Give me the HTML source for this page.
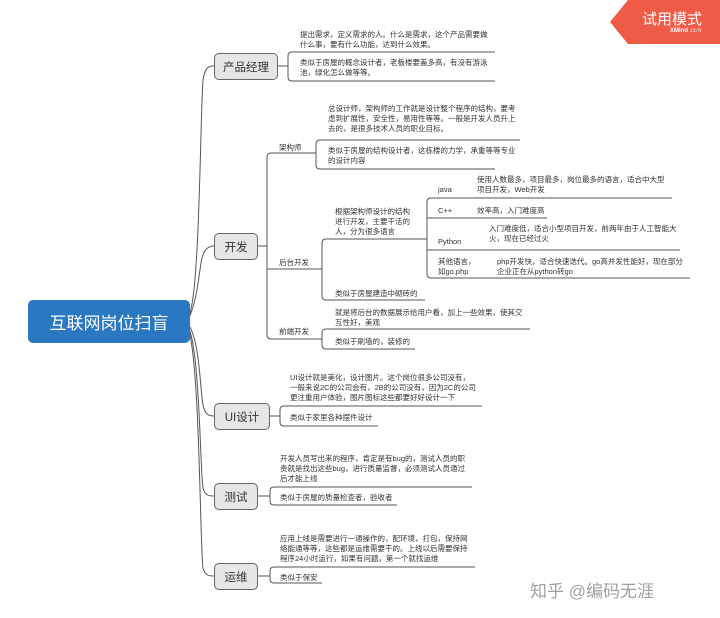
<!DOCTYPE html>
<html><head><meta charset="utf-8"><style>
body{margin:0;width:720px;height:618px;background:#fff;position:relative;overflow:hidden;font-family:"Liberation Sans","Noto Sans CJK SC",sans-serif;color:#333}
.t{position:absolute;font-size:7.5px;line-height:10px;white-space:nowrap}
.m{position:absolute;background:#e6e6e6;border:1px solid #666;border-radius:5px;font-size:11.5px;display:flex;align-items:center;justify-content:center;box-sizing:border-box;color:#333}
</style></head><body>
<svg width="720" height="618" style="position:absolute;left:0;top:0" fill="none" stroke="#555" stroke-width="1">
<path d="M188 318 C200 300,200 120,203 80 C205 68,208 66,214 66"/>
<path d="M188 320 C198 300,199 270,202 258 C204 250,208 246,214 246"/>
<path d="M188 324 C200 340,200 390,203 405 C205 414,208 416,214 416"/>
<path d="M188 326 C200 350,200 470,203 488 C205 495,208 496,214 496"/>
<path d="M188 328 C200 360,200 550,203 568 C205 575,208 576,214 576"/>
<path d="M278 66 H288"/>
<path d="M495 52 H292 Q288 52 288 56 V77 Q288 81 292 81 H495"/>
<path d="M258 246 H267"/>
<path d="M312 153 H271 Q267 153 267 157 V335 Q267 339 271 339 H312"/>
<path d="M267 269 H322"/>
<path d="M312 153 H316"/>
<path d="M520 140 H320 Q316 140 316 144 V165 Q316 169 320 169 H495"/>
<path d="M322 269 V243 Q322 239 326 239 H425 M322 269 V296 Q322 300 326 300 H425"/>
<path d="M425 239 H427"/>
<path d="M672 198 H431 Q427 198 427 202 V274 Q427 278 431 278 H690"/>
<path d="M427 218 H547 M427 250 H680"/>
<path d="M312 339 H322"/>
<path d="M530 329 H326 Q322 329 322 333 V345 Q322 349 326 349 H415"/>
<path d="M270 416 H280"/>
<path d="M482 406 H284 Q280 406 280 410 V422 Q280 426 284 426 H378"/>
<path d="M258 496 H270"/>
<path d="M472 487 H274 Q270 487 270 491 V501 Q270 505 274 505 H397"/>
<path d="M258 576 H270"/>
<path d="M475 567 H274 Q270 567 270 571 V579 Q270 583 274 583 H322"/>
</svg>
<div style="position:absolute;left:28px;top:300px;width:162px;height:43px;background:#2b78c2;border-radius:5px;color:#fff;font-size:17px;display:flex;align-items:center;justify-content:center">互联网岗位扫盲</div>
<div class="m" style="left:214px;top:53px;width:64px;height:27px">产品经理</div>
<div class="m" style="left:214px;top:233px;width:44px;height:27px">开发</div>
<div class="m" style="left:214px;top:403px;width:56px;height:27px">UI设计</div>
<div class="m" style="left:214px;top:483px;width:44px;height:27px">测试</div>
<div class="m" style="left:214px;top:563px;width:44px;height:27px">运维</div>

<div class="t" style="left:300px;top:30px">提出需求，定义需求的人。什么是需求，这个产品需要做<br>什么事，要有什么功能，达到什么效果。</div>
<div class="t" style="left:300px;top:58px">类似于房屋的概念设计者，老板楼要盖多高，有没有游泳<br>池，绿化怎么做等等。</div>
<div class="t" style="left:279px;top:143px">架构师</div>
<div class="t" style="left:328px;top:104px">总设计师，架构师的工作就是设计整个程序的结构，要考<br>虑到扩展性，安全性，易用性等等。一般是开发人员升上<br>去的，是很多技术人员的职业目标。</div>
<div class="t" style="left:328px;top:146px">类似于房屋的结构设计者，这栋楼的力学，承重等等专业<br>的设计内容</div>
<div class="t" style="left:279px;top:258px">后台开发</div>
<div class="t" style="left:335px;top:207px">根据架构师设计的结构<br>进行开发，主要干活的<br>人，分为很多语言</div>
<div class="t" style="left:335px;top:289px">类似于房屋建造中砌砖的</div>
<div class="t" style="left:438px;top:185px">java</div>
<div class="t" style="left:477px;top:175px">使用人数最多，项目最多，岗位最多的语言，适合中大型<br>项目开发，Web开发</div>
<div class="t" style="left:438px;top:206px">C++</div>
<div class="t" style="left:477px;top:206px">效率高，入门难度高</div>
<div class="t" style="left:438px;top:237px">Python</div>
<div class="t" style="left:489px;top:224px">入门难度低，适合小型项目开发，前两年由于人工智能大<br>火，现在已经过火</div>
<div class="t" style="left:438px;top:257px">其他语言，<br>如go,php</div>
<div class="t" style="left:497px;top:257px">php开发快，适合快速迭代。go高并发性能好，现在部分<br>企业正在从python转go</div>
<div class="t" style="left:279px;top:327px">前端开发</div>
<div class="t" style="left:335px;top:308px">就是将后台的数据展示给用户看，加上一些效果，使其交<br>互性好，美观</div>
<div class="t" style="left:335px;top:337px">类似于刷墙的，装修的</div>
<div class="t" style="left:290px;top:373px">UI设计就是美化，设计图片。这个岗位很多公司没有，<br>一般来说2C的公司会有，2B的公司没有，因为2C的公司<br>更注重用户体验，图片图标这些都要好好设计一下</div>
<div class="t" style="left:290px;top:413px">类似于家里各种摆件设计</div>
<div class="t" style="left:280px;top:454px">开发人员写出来的程序，肯定是有bug的，测试人员的职<br>责就是找出这些bug，进行质量监督，必须测试人员通过<br>后才能上线</div>
<div class="t" style="left:280px;top:493px">类似于房屋的质量检查者，验收者</div>
<div class="t" style="left:280px;top:534px">应用上线是需要进行一通操作的，配环境，打包，保持网<br>络能通等等，这些都是运维需要干的。上线以后需要保持<br>程序24小时运行，如果有问题，第一个就找运维</div>
<div class="t" style="left:280px;top:573px">类似于保安</div>

<div style="position:absolute;left:530px;top:577px;font-size:17px;color:#a0a0a0;white-space:nowrap">知乎 @编码无涯</div>
<svg width="110" height="44" style="position:absolute;left:610px;top:0"><polygon points="0,22 18,0 110,0 110,44 18,44" fill="#ef5b47"/></svg>
<div style="position:absolute;left:642px;top:8px;color:#fff;font-size:15px;white-space:nowrap">试用模式</div>
<div style="position:absolute;left:670px;top:28px;color:#fff;font-size:6px;white-space:nowrap;font-weight:bold">XMind <span style="font-weight:normal;opacity:.8">ZEN</span></div>
</body></html>
